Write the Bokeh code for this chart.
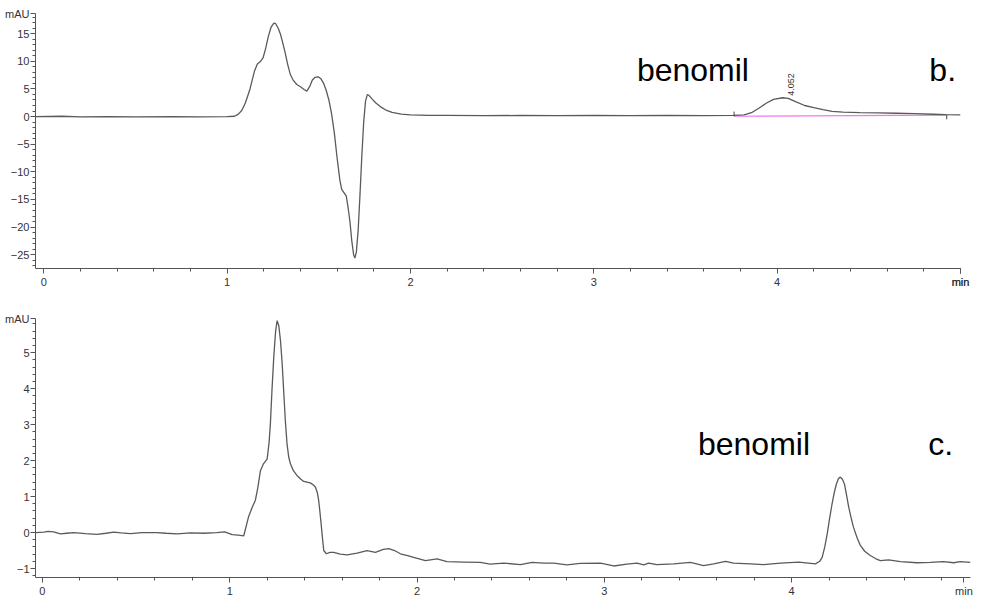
import math
from bokeh.plotting import figure
from bokeh.layouts import column
from bokeh.models import Range1d, FixedTicker, Label
from bokeh.embed import file_html
from bokeh.resources import INLINE

# ---------------- data: chromatogram b ----------------
b_time = [-0.045, 0.1, 0.2, 0.35, 0.5, 0.7, 0.85, 1.0, 1.04, 1.06, 1.08, 1.10, 1.125, 1.15,
          1.165, 1.18, 1.196, 1.21, 1.225, 1.24, 1.255, 1.265, 1.28, 1.29, 1.30, 1.315, 1.33,
          1.345, 1.36, 1.38, 1.40, 1.42, 1.435, 1.45, 1.465, 1.48, 1.497, 1.51, 1.525, 1.54,
          1.555, 1.57, 1.585, 1.60, 1.615, 1.625, 1.64, 1.65, 1.66, 1.67, 1.68, 1.69, 1.697,
          1.705, 1.715, 1.725, 1.735, 1.745, 1.755, 1.765, 1.775, 1.79, 1.81, 1.84, 1.87, 1.90,
          1.95, 2.0, 2.1, 2.2, 2.4, 2.6, 2.8, 3.0, 3.2, 3.4, 3.6, 3.76, 3.82, 3.86, 3.90, 3.94,
          3.98, 4.03, 4.06, 4.10, 4.15, 4.20, 4.25, 4.30, 4.36, 4.45, 4.55, 4.65, 4.75, 4.85,
          4.92, 5.0]
b_mau = [0.0, 0.05, -0.05, 0.0, -0.05, 0.0, -0.05, 0.0, 0.05, 0.4, 1.1, 2.5, 5.0, 8.3,
         9.5, 9.9, 10.6, 12.3, 14.5, 16.2, 16.9, 16.8, 15.9, 15.0, 13.8, 11.8, 9.5,
         7.6, 6.6, 5.8, 5.4, 4.9, 4.6, 5.4, 6.6, 7.1, 7.2, 6.9, 6.1, 4.8,
         3.0, 0.5, -3.0, -7.5, -11.5, -13.2, -13.9, -14.4, -16.5, -19.0, -22.5, -25.0, -25.6,
         -24.5, -20.5, -14.0, -7.0, -1.0, 2.8, 4.0, 3.8, 3.2, 2.5, 1.7, 1.1, 0.75,
         0.45, 0.3, 0.2, 0.2, 0.15, 0.2, 0.15, 0.2, 0.15, 0.2, 0.18, 0.2, 0.3, 0.7, 1.5, 2.4,
         3.1, 3.4, 3.3, 2.7, 2.0, 1.6, 1.25, 0.95, 0.8, 0.72, 0.67, 0.6, 0.52, 0.42,
         0.35, 0.3]

# integration baseline of the benomil peak in b
b_base_time = [3.765, 4.925]
b_base_mau = [0.05, 0.25]
b_mark_time = [3.765, 4.925]
b_mark_top = [0.9, 0.3]
b_mark_bottom = [0.05, -0.5]
b_peak_rt = "4.052"
b_peak_pos = (4.076, 5.8)

# ---------------- data: chromatogram c ----------------
c_time = [-0.037, 0.007, 0.03, 0.06, 0.096, 0.13, 0.167, 0.23, 0.29, 0.34, 0.38, 0.42, 0.47,
          0.53, 0.61, 0.66, 0.72, 0.79, 0.86, 0.93, 0.973, 1.013, 1.045, 1.075, 1.10, 1.12,
          1.137, 1.15, 1.164, 1.18, 1.2, 1.21, 1.217, 1.226, 1.235, 1.245, 1.253, 1.262, 1.271,
          1.28, 1.288, 1.297, 1.306, 1.315, 1.324, 1.34, 1.36, 1.38, 1.395, 1.43, 1.445, 1.458,
          1.468, 1.475, 1.482, 1.488, 1.495, 1.502, 1.516, 1.535, 1.555, 1.59, 1.627, 1.68,
          1.733, 1.778, 1.82, 1.849, 1.88, 1.911, 1.95, 1.982, 2.045, 2.107, 2.16, 2.25, 2.338,
          2.39, 2.463, 2.552, 2.614, 2.676, 2.73, 2.80, 2.872, 2.98, 3.05, 3.12, 3.175, 3.21,
          3.237, 3.28, 3.37, 3.46, 3.53, 3.584, 3.647, 3.69, 3.78, 3.85, 3.94, 4.038, 4.127,
          4.15, 4.163, 4.177, 4.19, 4.203, 4.216, 4.228, 4.239, 4.25, 4.26, 4.271, 4.282, 4.293,
          4.305, 4.318, 4.33, 4.35, 4.367, 4.39, 4.42, 4.45, 4.474, 4.518, 4.58, 4.67, 4.74,
          4.81, 4.866, 4.9, 4.955]
c_mau = [0.0, 0.01, 0.03, 0.02, -0.04, -0.02, 0.0, -0.03, -0.05, -0.02, 0.01, -0.01, -0.03,
         0.0, 0.0, -0.02, -0.04, -0.01, -0.02, 0.0, 0.02, -0.06, -0.07, -0.09, 0.43, 0.7,
         0.9, 1.25, 1.72, 1.91, 2.05, 2.5, 3.02, 4.0, 4.87, 5.6, 5.89, 5.75, 5.33,
         4.7, 3.94, 3.1, 2.46, 2.1, 1.91, 1.72, 1.58, 1.48, 1.42, 1.38, 1.33, 1.26,
         1.1, 0.89, 0.55, 0.24, -0.15, -0.5, -0.59, -0.55, -0.55, -0.6, -0.62, -0.57,
         -0.5, -0.55, -0.47, -0.45, -0.5, -0.59, -0.64, -0.69, -0.78, -0.73, -0.81, -0.82, -0.83,
         -0.88, -0.85, -0.89, -0.83, -0.85, -0.85, -0.9, -0.86, -0.85, -0.93, -0.88, -0.85, -0.9,
         -0.85, -0.89, -0.87, -0.83, -0.92, -0.87, -0.8, -0.85, -0.87, -0.89, -0.85, -0.82, -0.87,
         -0.8, -0.69, -0.4, -0.04, 0.4, 0.8, 1.12, 1.35, 1.5, 1.54, 1.48, 1.35, 1.05,
         0.7, 0.4, 0.15, -0.15, -0.36, -0.52, -0.64, -0.73, -0.78, -0.76, -0.81, -0.84, -0.83,
         -0.81, -0.84, -0.81, -0.83]

# text annotations
b_texts = [("benomil", 3.235, 8.4), ("b.", 4.83, 8.4)]
c_texts = [("benomil", 3.50, 2.45), ("c.", 4.73, 2.45)]

# axis ticks and labels
b_x_major = [0, 1, 2, 3, 4, 5]
b_y_major = [-25, -20, -15, -10, -5, 0, 5, 10, 15]
c_x_major = [0, 1, 2, 3, 4]
c_y_major = [-1, 0, 1, 2, 3, 4, 5]
x_unit = "min"
y_unit = "mAU"

b_xrange = (-0.045, 5.0)
b_yrange = (-27.5, 18.65)
c_xrange = (-0.037, 4.955)
c_yrange = (-1.25, 5.95)

FONT = "Liberation Sans"
CURVE = "#5a5a5a"
AXIS = "#555555"


def minor_list(lo, hi, step):
    n0 = math.ceil(lo / step - 1e-9)
    n1 = math.floor(hi / step + 1e-9)
    return [round(k * step, 6) for k in range(n0, n1 + 1)]


def make_fig(xr, yr, xmaj, ymaj, ystep, xunit_pos, fw, fh, bt, bb, br):
    p = figure(frame_width=fw, frame_height=fh, x_range=Range1d(*xr), y_range=Range1d(*yr),
               output_backend="svg", toolbar_location=None,
               min_border_left=35, min_border_right=br, min_border_top=bt, min_border_bottom=bb)
    p.outline_line_color = None
    p.grid.visible = False
    p.background_fill_color = "white"
    p.border_fill_color = "white"
    p.xaxis.ticker = FixedTicker(ticks=xmaj + [xunit_pos],
                                 minor_ticks=minor_list(0, xr[1], 0.2))
    p.yaxis.ticker = FixedTicker(ticks=ymaj + [yr[1]],
                                 minor_ticks=minor_list(yr[0], yr[1], ystep / 5))
    p.xaxis.major_label_overrides = {xunit_pos: x_unit}
    p.yaxis.major_label_overrides = {yr[1]: y_unit}
    for ax in (p.xaxis[0], p.yaxis[0]):
        ax.axis_line_color = AXIS
        ax.major_tick_line_color = AXIS
        ax.minor_tick_line_color = AXIS
        ax.major_tick_in = 0
        ax.minor_tick_in = 0
        ax.major_tick_out = 5
        ax.minor_tick_out = 3
        ax.major_label_text_font = FONT
        ax.major_label_text_font_size = "11px"
        ax.major_label_text_color = "#333333"
    p.xaxis.major_label_standoff = 2
    p.yaxis.major_label_standoff = 1
    return p


# ---------- top panel (b) ----------
pb = make_fig(b_xrange, b_yrange, b_x_major, b_y_major, 5, 5.0, 925, 255, 13, 22, 26)
pb.line(b_base_time, b_base_mau, line_color="#ee77ee", line_width=1.2)
pb.line(b_time, b_mau, line_color=CURVE, line_width=1.3)
pb.segment(x0=b_mark_time, y0=b_mark_bottom, x1=b_mark_time, y1=b_mark_top,
           line_color="#444444", line_width=1)
pb.add_layout(Label(x=b_peak_pos[0], y=b_peak_pos[1], text=b_peak_rt, angle=math.pi / 2,
                    text_align="center", text_baseline="middle", text_font=FONT,
                    text_font_size="9px", text_color="#333333"))
for t, x, y in b_texts:
    pb.add_layout(Label(x=x, y=y, text=t, text_font=FONT, text_font_size="32px",
                        text_color="black", text_align="left", text_baseline="alphabetic"))

# ---------- bottom panel (c) ----------
pc = make_fig(c_xrange, c_yrange, c_x_major, c_y_major, 1, 4.92, 935, 259, 28, 19, 16)
pc.line(c_time, c_mau, line_color=CURVE, line_width=1.3)
for t, x, y in c_texts:
    pc.add_layout(Label(x=x, y=y, text=t, text_font=FONT, text_font_size="32px",
                        text_color="black", text_align="left", text_baseline="alphabetic"))

layout = column(pb, pc, spacing=0)
open("out.html", "w").write(file_html(layout, INLINE))
